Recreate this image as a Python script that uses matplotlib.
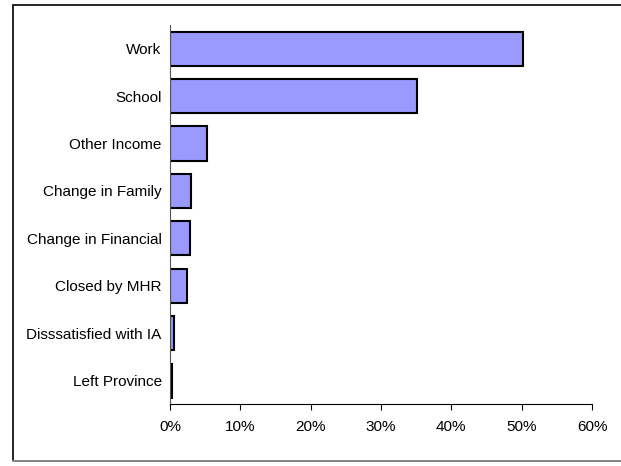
import matplotlib.pyplot as plt
from matplotlib.patches import Rectangle
from matplotlib.ticker import PercentFormatter
from matplotlib.lines import Line2D

plt.rcParams['font.family'] = ['Liberation Sans', 'DejaVu Sans']

categories = ['Work', 'School', 'Other Income', 'Change in Family',
              'Change in Financial', 'Closed by MHR', 'Disssatisfied with IA',
              'Left Province']
shares = [50.2, 35.1, 5.3, 3.0, 2.8, 2.4, 0.6, 0.3]
x_ticks = [0, 10, 20, 30, 40, 50, 60]

fig = plt.figure(figsize=(6.21, 4.66), dpi=100)
ax = fig.add_axes([170 / 621, 1 - 404.3 / 466, 422 / 621, 379.3 / 466])

pos = list(range(len(categories)))
ax.barh(pos, shares, height=0.72, color='#9999FF', edgecolor='black',
        linewidth=1.5)

ax.set_ylim(len(categories) - 0.5, -0.5)
ax.set_xlim(0, 60)
ax.set_xticks(x_ticks)
ax.xaxis.set_major_formatter(PercentFormatter(decimals=0))
ax.set_yticks(pos)
ax.set_yticklabels(categories)

ax.spines['top'].set_visible(False)
ax.spines['right'].set_visible(False)
ax.spines['left'].set_color('#555555')
ax.spines['bottom'].set_color('black')
ax.tick_params(axis='y', length=0, pad=6, labelsize=11)
ax.tick_params(axis='x', direction='out', length=4, pad=7, labelsize=11)

# chart area border (runs off the right edge like the original)
fig.add_artist(Rectangle((13 / 621, 1 - 461 / 466), 1.0, (461 - 4.5) / 466,
                         transform=fig.transFigure, fill=False,
                         edgecolor='black', linewidth=1.2))
fig.add_artist(Line2D([13 / 621, 1], [1 - 461 / 466, 1 - 461 / 466],
                      transform=fig.transFigure, color='#999999', linewidth=1.2))

fig.savefig('out.png', dpi=100)
